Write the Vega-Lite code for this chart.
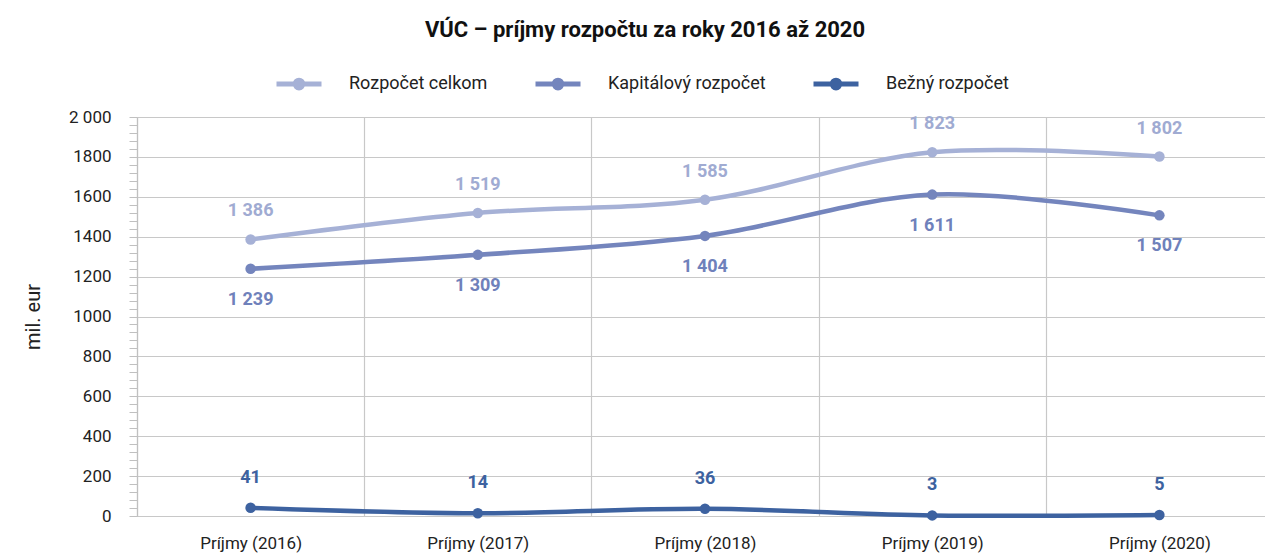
{
  "$schema": "https://vega.github.io/schema/vega-lite/v6.json",
  "width": 1136,
  "height": 399,
  "autosize": {"type": "none"},
  "padding": {"left": 137, "top": 117, "right": 0, "bottom": 39},
  "config": {
    "view": {"stroke": null},
    "font": "Roboto",
    "locale": {"number": {"decimal": ",", "thousands": " ", "grouping": [3], "currency": ["", " €"]}}
  },
  "title": {
    "text": "VÚC – príjmy rozpočtu za roky 2016 až 2020",
    "fontSize": 22,
    "fontWeight": "bold",
    "color": "#111111",
    "anchor": "middle",
    "frame": "group",
    "dx": -60,
    "offset": 0,
    "baseline": "alphabetic"
  },
  "data": {
    "values": [
      {"rok": "Príjmy (2016)", "seria": "Rozpočet celkom", "hodnota": 1386},
      {"rok": "Príjmy (2017)", "seria": "Rozpočet celkom", "hodnota": 1519},
      {"rok": "Príjmy (2018)", "seria": "Rozpočet celkom", "hodnota": 1585},
      {"rok": "Príjmy (2019)", "seria": "Rozpočet celkom", "hodnota": 1823},
      {"rok": "Príjmy (2020)", "seria": "Rozpočet celkom", "hodnota": 1802},
      {"rok": "Príjmy (2016)", "seria": "Kapitálový rozpočet", "hodnota": 1239},
      {"rok": "Príjmy (2017)", "seria": "Kapitálový rozpočet", "hodnota": 1309},
      {"rok": "Príjmy (2018)", "seria": "Kapitálový rozpočet", "hodnota": 1404},
      {"rok": "Príjmy (2019)", "seria": "Kapitálový rozpočet", "hodnota": 1611},
      {"rok": "Príjmy (2020)", "seria": "Kapitálový rozpočet", "hodnota": 1507},
      {"rok": "Príjmy (2016)", "seria": "Bežný rozpočet", "hodnota": 41},
      {"rok": "Príjmy (2017)", "seria": "Bežný rozpočet", "hodnota": 14},
      {"rok": "Príjmy (2018)", "seria": "Bežný rozpočet", "hodnota": 36},
      {"rok": "Príjmy (2019)", "seria": "Bežný rozpočet", "hodnota": 3},
      {"rok": "Príjmy (2020)", "seria": "Bežný rozpočet", "hodnota": 5}
    ]
  },
  "encoding": {
    "x": {
      "field": "rok",
      "type": "nominal",
      "sort": ["Príjmy (2016)", "Príjmy (2017)", "Príjmy (2018)", "Príjmy (2019)", "Príjmy (2020)"],
      "scale": {"type": "band", "paddingInner": 0, "paddingOuter": 0},
      "axis": {
        "title": null,
        "labelAngle": 0,
        "labelFontSize": 17,
        "labelColor": "#222222",
        "labelPadding": 19,
        "ticks": false,
        "tickBand": "extent",
        "grid": true,
        "gridColor": "#c8c8c8",
        "gridWidth": 1.2,
        "domainColor": "#c8c8c8",
        "domainWidth": 1.2
      }
    },
    "y": {
      "field": "hodnota",
      "type": "quantitative",
      "scale": {"domain": [0, 2000], "nice": false, "zero": true},
      "axis": {
        "title": "mil. eur",
        "titleFontSize": 20,
        "titleFontWeight": "normal",
        "titleColor": "#222222",
        "titlePadding": 25,
        "values": [0,40,80,120,160,200,240,280,320,360,400,440,480,520,560,600,640,680,720,760,800,840,880,920,960,1000,1040,1080,1120,1160,1200,1240,1280,1320,1360,1400,1440,1480,1520,1560,1600,1640,1680,1720,1760,1800,1840,1880,1920,1960,2000],
        "labelExpr": "datum.value === 2000 ? '2 000' : (datum.value % 200 === 0 ? toString(datum.value) : '')",
        "labelOverlap": false,
        "labelBound": false,
        "labelFontSize": 17,
        "labelColor": "#222222",
        "labelPadding": 18,
        "tickSize": 8,
        "tickColor": "#c0c0c0",
        "domainColor": "#c0c0c0",
        "domainWidth": 1.2,
        "grid": true,
        "gridColor": "#c8c8c8",
        "gridWidth": 1.2,
        "gridOpacity": {"condition": {"test": "datum.value % 200 === 0", "value": 1}, "value": 0}
      }
    }
  },
  "layer": [
    {
      "mark": {"type": "line", "interpolate": "cardinal", "strokeWidth": 4.5, "point": {"size": 110, "filled": true}},
      "encoding": {
        "color": {
          "field": "seria",
          "type": "nominal",
          "scale": {
            "domain": ["Rozpočet celkom", "Kapitálový rozpočet", "Bežný rozpočet"],
            "range": ["#a6b1d6", "#7485bd", "#3d62a0"]
          },
          "legend": {
            "title": null,
            "orient": "none",
            "direction": "horizontal",
            "legendX": 137,
            "legendY": -58,
            "symbolType": "M-1,0L1,0M0.17,0A0.17,0.17,0,1,1,-0.17,0A0.17,0.17,0,1,1,0.17,0Z",
            "symbolSize": 2025,
            "symbolStrokeWidth": 5,
            "labelFontSize": 18,
            "labelColor": "#222222",
            "labelOffset": 25,
            "columnPadding": 37,
            "encode": {
              "symbols": {
                "update": {
                  "fill": {"scale": "color", "field": "value"},
                  "stroke": {"scale": "color", "field": "value"},
                  "strokeWidth": {"value": 5},
                  "opacity": {"value": 1}
                }
              }
            }
          }
        }
      }
    },
    {
      "transform": [{"filter": "datum.seria === 'Rozpočet celkom'"}],
      "mark": {"type": "text", "dy": -28, "fontSize": 18, "fontWeight": "bold", "color": "#a0abd2"},
      "encoding": {"text": {"field": "hodnota", "type": "quantitative", "format": ",d"}}
    },
    {
      "transform": [{"filter": "datum.seria === 'Kapitálový rozpočet'"}],
      "mark": {"type": "text", "dy": 31, "fontSize": 18, "fontWeight": "bold", "color": "#6f81bb"},
      "encoding": {"text": {"field": "hodnota", "type": "quantitative", "format": ",d"}}
    },
    {
      "transform": [{"filter": "datum.seria === 'Bežný rozpočet'"}],
      "mark": {"type": "text", "dy": -30, "fontSize": 18, "fontWeight": "bold", "color": "#3d62a0"},
      "encoding": {"text": {"field": "hodnota", "type": "quantitative", "format": ",d"}}
    }
  ]
}
